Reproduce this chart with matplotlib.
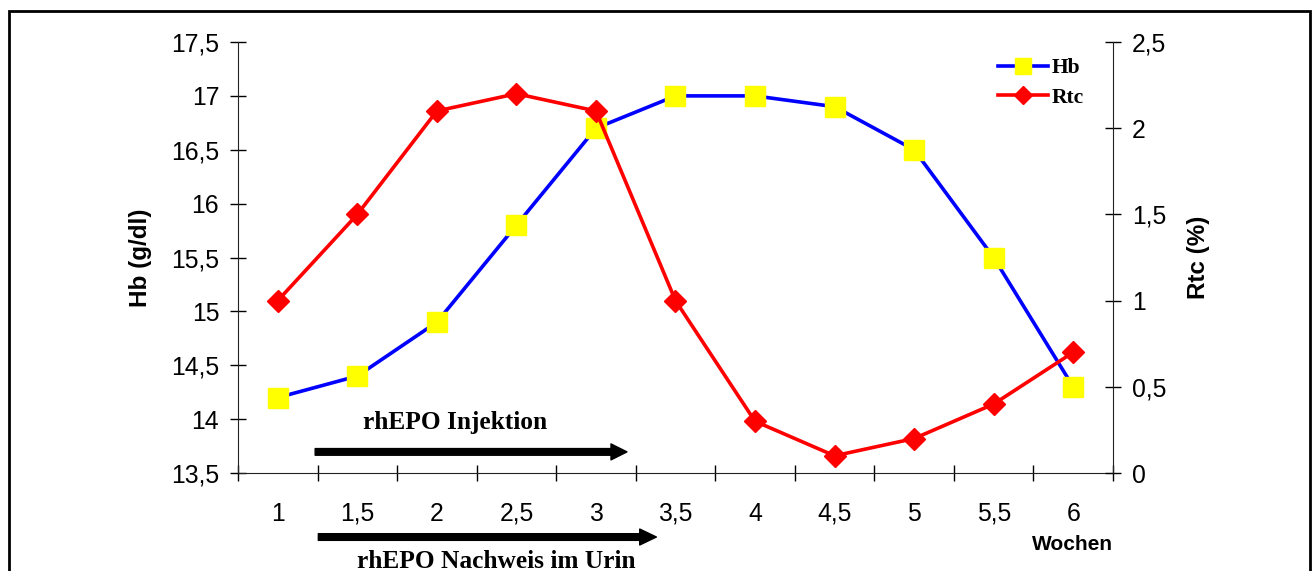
import numpy as np
import matplotlib.pyplot as plt
from matplotlib.patches import Rectangle

# Daten
wochen = ["1", "1,5", "2", "2,5", "3", "3,5", "4", "4,5", "5", "5,5", "6"]
hb = [14.2, 14.4, 14.9, 15.8, 16.7, 17.0, 17.0, 16.9, 16.5, 15.5, 14.3]
rtc = [1.0, 1.5, 2.1, 2.2, 2.1, 1.0, 0.3, 0.1, 0.2, 0.4, 0.7]
hb_ticks = [13.5, 14, 14.5, 15, 15.5, 16, 16.5, 17, 17.5]
rtc_ticks = [0, 0.5, 1, 1.5, 2, 2.5]


def komma(v):
    s = ("%g" % v)
    return s.replace(".", ",")


plt.rcParams["font.family"] = ["Liberation Sans", "DejaVu Sans"]
serif_bold = dict(family="Liberation Serif", weight="bold")

fig = plt.figure(figsize=(13.12, 5.71), dpi=100)
ax = fig.add_axes([0.1814, 0.1716, 0.6669, 0.7548])
ax2 = ax.twinx()

x = np.arange(len(wochen))

ax.plot(x, hb, color="#0000FF", lw=2.6, marker="s", markersize=14.5,
        markerfacecolor="#FFFF00", markeredgecolor="#FFFF00", label="Hb")
ax2.plot(x, rtc, color="#FF0000", lw=2.6, marker="D", markersize=11,
         markerfacecolor="#FF0000", markeredgecolor="#FF0000", label="Rtc")

ax.set_xlim(-0.5, len(wochen) - 0.5)
ax.set_ylim(13.5, 17.5)
ax2.set_ylim(0, 2.5)

# Kategorien: Striche zwischen den Kategorien, Beschriftung in der Mitte
ax.set_xticks(np.arange(len(wochen) + 1) - 0.5)
ax.set_xticklabels([])
ax.tick_params(axis="x", which="major", direction="inout", length=11, width=1)
for xi, w in zip(x, wochen):
    ax.text(xi, -0.111, w, transform=ax.get_xaxis_transform(), ha="center",
            va="baseline", fontsize=17.8, clip_on=False)

ax.set_yticks(hb_ticks)
ax.set_yticklabels([komma(v) for v in hb_ticks])
ax.tick_params(axis="y", direction="inout", length=11, width=1, pad=8, labelsize=17.8)

ax2.set_yticks(rtc_ticks)
ax2.set_yticklabels([komma(v) for v in rtc_ticks])
ax2.tick_params(axis="y", direction="inout", length=11, width=1, pad=8, labelsize=17.8)

for a in (ax, ax2):
    a.spines["top"].set_visible(False)
    for s in a.spines.values():
        s.set_color("#222222")
ax.spines["right"].set_visible(False)
ax2.spines["left"].set_visible(False)
ax2.spines["bottom"].set_visible(False)

ax.set_ylabel("Hb (g/dl)", fontsize=17.5, fontweight="bold", labelpad=14)
ax2.set_ylabel("Rtc (%)", fontsize=17.5, fontweight="bold", rotation=90, labelpad=15)

fig.text(1072 / 1312, 1 - 545 / 571, "Wochen", fontsize=15, fontweight="bold",
         ha="center", va="center")

# Pfeile und Beschriftungen unter dem Diagramm
ax.annotate("", xy=(4.39, 0.049), xytext=(0.47, 0.049),
            xycoords=("data", "axes fraction"), textcoords=("data", "axes fraction"),
            arrowprops=dict(arrowstyle="simple,head_length=1.15,head_width=1.15,tail_width=0.48",
                            color="black", mutation_scale=10, shrinkA=0, shrinkB=0),
            annotation_clip=False)
ax.text(2.23, 0.118, "rhEPO Injektion", transform=ax.get_xaxis_transform(),
        ha="center", va="center", fontsize=18.3, clip_on=False, **serif_bold)

ax.annotate("", xy=(4.76, -0.1485), xytext=(0.51, -0.1485),
            xycoords=("data", "axes fraction"), textcoords=("data", "axes fraction"),
            arrowprops=dict(arrowstyle="simple,head_length=1.2,head_width=1.15,tail_width=0.48",
                            color="black", mutation_scale=10, shrinkA=0, shrinkB=0),
            annotation_clip=False)
ax.text(2.75, -0.205, "rhEPO Nachweis im Urin", transform=ax.get_xaxis_transform(),
        ha="center", va="center", fontsize=18.3, clip_on=False, **serif_bold)

# Legende
h1, l1 = ax.get_legend_handles_labels()
h2, l2 = ax2.get_legend_handles_labels()
fig.legend(h1 + h2, l1 + l2, loc="center left",
           bbox_to_anchor=(998 / 1312, 1 - 83 / 571), frameon=False,
           prop=dict(family="Liberation Serif", weight="bold", size=15.5),
           borderpad=0, borderaxespad=0, handlelength=2.3, handletextpad=0.2,
           labelspacing=0.42, markerscale=0.8)

# Rahmen um die Grafik
fig.add_artist(Rectangle((0.0066, -0.05), 0.9919, 0.9807 + 0.05, transform=fig.transFigure,
                         fill=False, lw=2.0, edgecolor="black", clip_on=False))

fig.savefig("out.png", dpi=100)
